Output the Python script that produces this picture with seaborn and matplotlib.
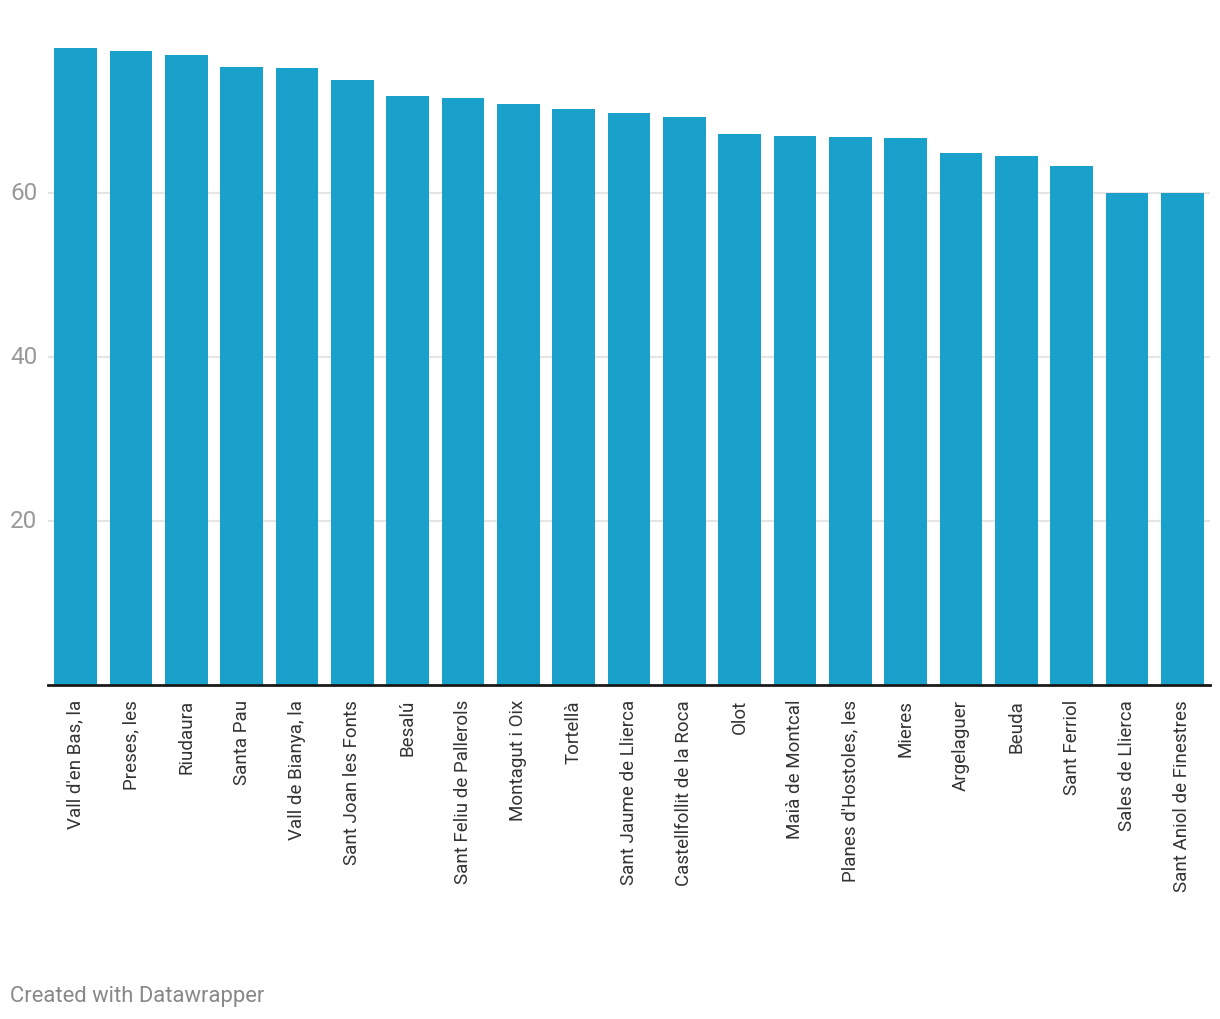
import pandas as pd
import matplotlib.pyplot as plt
import seaborn as sns

municipis = [
    "Vall d'en Bas, la", "Preses, les", "Riudaura", "Santa Pau",
    "Vall de Bianya, la", "Sant Joan les Fonts", "Besalú",
    "Sant Feliu de Pallerols", "Montagut i Oix", "Tortellà",
    "Sant Jaume de Llierca", "Castellfollit de la Roca", "Olot",
    "Maià de Montcal", "Planes d'Hostoles, les", "Mieres", "Argelaguer",
    "Beuda", "Sant Ferriol", "Sales de Llierca", "Sant Aniol de Finestres",
]
valors = [77.7, 77.3, 76.8, 75.4, 75.2, 73.8, 71.8, 71.6, 70.9, 70.2,
          69.8, 69.3, 67.2, 67.0, 66.8, 66.7, 64.9, 64.5, 63.3, 60.0, 60.0]
y_ticks = [20, 40, 60]

df = pd.DataFrame({"municipi": municipis, "valor": valors})

sns.set_style("white")
plt.rcParams["font.family"] = ["Roboto", "DejaVu Sans"]

fig = plt.figure(figsize=(12.2, 10.2), dpi=100)
ax = fig.add_axes([48 / 1220, 334 / 1020, 1162 / 1220, 639.6 / 1020])

sns.barplot(data=df, x="municipi", y="valor", color="#19a1cc",
            saturation=1, width=0.77, linewidth=0, ax=ax, zorder=3)

ax.set_xlim(-0.5, len(municipis) - 0.5)
ax.set_ylim(0, 78)
ax.set_yticks(y_ticks)
ax.set_yticklabels([str(t) for t in y_ticks])
ax.tick_params(axis="y", length=0, labelsize=17.5, labelcolor="#999999", pad=7.5)
ax.tick_params(axis="x", length=0, labelsize=13.5, labelcolor="#333333", pad=10)
ax.set_xticks(range(len(municipis)))
ax.set_xticklabels(municipis, rotation=90)
for t in ax.get_yticklabels():
    t.set_verticalalignment("center")

ax.grid(True, axis="y", color="#e5e5e5", linewidth=1.5, zorder=0)
ax.grid(False, axis="x")
for s in ["top", "right", "left"]:
    ax.spines[s].set_visible(False)
ax.spines["bottom"].set_color("#1a1a1a")
ax.spines["bottom"].set_linewidth(2)
ax.spines["bottom"].set_zorder(4)
ax.set_xlabel("")
ax.set_ylabel("")

fig.text(10 / 1220, 1 - 997 / 1020, "Created with Datawrapper",
         fontsize=15.8, color="#888888", va="center", ha="left")

fig.savefig("out.png", dpi=100, facecolor="white")
